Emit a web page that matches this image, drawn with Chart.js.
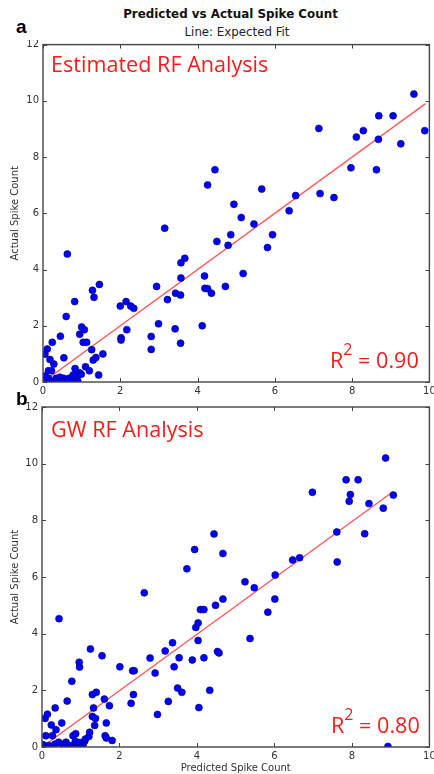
<!DOCTYPE html>
<html><head><meta charset="utf-8">
<script src="https://cdn.jsdelivr.net/npm/chart.js@4.4.1/dist/chart.umd.min.js"></script>
<style>
html,body{margin:0;padding:0;background:#fff;width:434px;height:774px;overflow:hidden;position:relative}
.abs{position:absolute;white-space:nowrap}
.ann{font-family:'Open Sans';font-size:21.6px;line-height:21px;color:#ff1a1a}
.sup{position:relative;top:-13px;font-size:16px}
.lab{font-family:'Liberation Sans';font-weight:bold;font-size:19px;line-height:19px;color:#000}
</style></head><body>
<div class="abs" style="left:0;top:40px;width:434px;height:360px"><canvas id="c1" width="434" height="360"></canvas></div>
<div class="abs" style="left:0;top:400px;width:434px;height:374px"><canvas id="c2" width="434" height="374"></canvas></div>

<div class="abs" style="left:230.5px;top:8.5px;transform:translateX(-50%);font-family:'DejaVu Sans';font-weight:bold;font-size:11.9px;line-height:11.9px;color:#111">Predicted vs Actual Spike Count</div>
<div class="abs" style="left:237px;top:27px;transform:translateX(-50%);font-family:'DejaVu Sans';font-size:11.8px;line-height:11.8px;color:#222">Line: Expected Fit</div>
<div class="abs lab" style="left:16px;top:17px">a</div>
<div class="abs lab" style="left:16px;top:389px">b</div>
<div class="abs ann" style="left:51px;top:53px">Estimated RF Analysis</div>
<div class="abs ann" style="left:330px;top:349px">R<span class="sup">2</span> = 0.90</div>
<div class="abs ann" style="left:51px;top:418px">GW RF Analysis</div>
<div class="abs ann" style="left:331px;top:714px">R<span class="sup">2</span> = 0.80</div>

<script>
const xTicks = [0, 2, 4, 6, 8, 10];
const yTicks = [0, 2, 4, 6, 8, 10, 12];

// Panel a: Estimated RF Analysis
const estX = [0.01,0.05,0.14,0.34,0.54,0.68,0.63,0.44,0.03,0.22,0.48,0.78,0.90,0.82,0.89,0.78,0.94,0.99,1.10,1.20,1.44,0.83,0.14,0.22,0.28,0.18,0.54,1.30,1.37,1.55,1.26,0.05,0.11,0.24,0.45,1.04,1.13,0.95,1.00,1.07,0.60,0.82,1.28,1.32,1.46,0.63,
  2.00,2.15,2.27,2.35,2.02,2.02,2.17,2.80,2.80,2.94,2.99,3.22,3.15,3.42,3.43,3.56,3.57,3.57,3.67,3.56,4.12,4.18,4.19,4.26,4.36,4.50,4.72,5.18,4.79,4.86,4.94,5.13,5.46,5.94,5.81,6.37,4.26,4.45,5.66,6.54,7.14,7.17,7.53,7.97,8.11,8.29,8.63,8.69,8.68,9.06,9.26,9.60,9.88];
const estY = [0.13,0.21,0.13,0.13,0.13,0.13,0.05,0.17,0.00,0.03,0.02,0.02,0.04,0.17,0.22,0.25,0.33,0.28,0.54,0.40,0.25,0.48,0.40,0.40,0.64,0.80,0.86,0.78,0.87,1.00,1.15,0.99,1.17,1.41,1.63,1.41,1.41,1.70,1.96,1.86,2.33,2.86,3.26,3.01,3.47,4.55,
  2.70,2.86,2.70,2.62,1.57,1.49,1.86,1.62,1.16,3.40,2.07,2.93,5.47,1.89,3.16,3.09,3.70,4.24,4.40,1.38,2.00,3.77,3.33,3.32,3.16,5.00,3.40,3.86,4.86,5.24,6.32,5.85,5.62,5.24,4.78,6.09,7.01,7.55,6.86,6.63,9.02,6.70,6.56,7.62,8.71,8.94,7.55,9.47,8.63,9.47,8.47,10.24,8.94];
const estFitX = [0, 9.9];
const estFitY = [0, 9.9];

// Panel b: GW RF Analysis
const gwX = [0.03,0.17,0.33,0.43,0.51,0.62,0.63,0.72,0.89,0.86,0.97,1.06,1.10,1.12,1.21,1.23,1.63,1.66,1.81,0.10,0.27,0.80,0.87,0.24,0.36,0.51,0.08,0.14,0.34,0.65,0.77,0.96,0.97,0.44,1.25,1.55,1.30,1.40,1.33,1.30,1.38,1.36,1.66,1.61,1.74,
  2.01,2.34,2.38,2.36,2.30,2.64,2.79,2.92,2.98,3.18,3.26,3.37,3.41,3.50,3.54,3.61,3.74,3.88,3.94,3.97,4.03,4.03,4.05,4.09,4.18,4.18,4.33,4.44,4.48,4.53,4.57,4.67,4.67,5.24,5.37,5.48,5.83,6.01,6.02,6.47,6.65,6.98,7.61,7.62,7.85,7.93,7.96,8.16,8.33,8.44,8.81,8.87,8.93,9.07];
const gwY = [0.08,0.05,0.10,0.17,0.10,0.17,0.08,0.05,0.05,0.20,0.16,0.08,0.20,0.28,0.37,0.52,0.40,0.32,0.23,0.40,0.40,0.40,0.47,0.78,0.61,0.85,1.01,1.16,1.38,1.62,2.32,2.99,2.82,4.53,3.46,3.22,1.85,1.93,1.38,1.08,1.01,0.76,0.85,1.69,1.46,
  2.83,2.69,2.69,1.85,1.54,5.44,3.14,2.61,1.15,3.39,1.61,3.68,2.83,2.08,3.15,1.93,6.29,3.07,6.97,4.22,4.38,3.76,1.39,4.85,4.85,3.15,2.00,7.52,5.00,3.37,3.32,5.22,6.83,5.83,3.83,5.62,4.76,5.22,6.07,6.60,6.68,8.99,7.59,6.53,9.43,8.67,8.91,9.43,7.53,8.59,8.43,10.20,0.02,8.89];
const gwFitX = [0, 9.05];
const gwFitY = [0, 9.0];

function pts(xs, ys) { return xs.map((x, i) => ({ x: x, y: ys[i] })); }

const frame = {
  id: 'frame',
  afterDatasetsDraw(chart) {
    const { ctx, chartArea: a, scales: { x, y } } = chart;
    ctx.save();
    ctx.strokeStyle = '#444';
    ctx.lineWidth = 1;
    xTicks.forEach(v => {
      const p = Math.round(x.getPixelForValue(v)) + 0.5;
      ctx.beginPath();
      ctx.moveTo(p, a.bottom); ctx.lineTo(p, a.bottom - 4);
      ctx.moveTo(p, a.top); ctx.lineTo(p, a.top + 4);
      ctx.stroke();
    });
    yTicks.forEach(v => {
      const p = Math.round(y.getPixelForValue(v)) + 0.5;
      ctx.beginPath();
      ctx.moveTo(a.left, p); ctx.lineTo(a.left + 4, p);
      ctx.moveTo(a.right, p); ctx.lineTo(a.right - 4, p);
      ctx.stroke();
    });
    ctx.lineWidth = 1.4;
    ctx.strokeRect(a.left, a.top, a.right - a.left, a.bottom - a.top);
    ctx.restore();
  }
};

function make(id, xs, ys, fx, fy, o) {
  return new Chart(document.getElementById(id), {
    type: 'scatter',
    data: {
      datasets: [
        { data: pts(xs, ys), backgroundColor: '#0000ff', borderColor: '#00006e', borderWidth: 0.6, pointRadius: 3.5, order: 0 },
        { data: pts(fx, fy), showLine: true, borderColor: 'rgba(255,70,70,0.9)', borderWidth: 1.4, pointRadius: 0, fill: false, order: 1 }
      ]
    },
    options: {
      responsive: false, animation: false, devicePixelRatio: 1, events: [],
      layout: { padding: o.pad },
      plugins: { legend: { display: false }, tooltip: { enabled: false }, title: { display: false } },
      scales: {
        x: {
          type: 'linear', min: 0, max: 10,
          grid: { display: false, drawTicks: false }, border: { display: false },
          afterBuildTicks: s => { s.ticks = xTicks.map(v => ({ value: v })); },
          ticks: { color: '#333', font: { family: 'DejaVu Sans', size: 10 }, padding: 3, maxRotation: 0, autoSkip: false },
          title: { display: o.xTitle, text: 'Predicted Spike Count', color: '#333', font: { family: 'DejaVu Sans', size: 10 }, padding: 0 },
          afterFit: s => { s.height = o.xh; s.paddingLeft = 0; s.paddingRight = 0; }
        },
        y: {
          type: 'linear', min: 0, max: 12,
          grid: { display: false, drawTicks: false }, border: { display: false },
          afterBuildTicks: s => { s.ticks = yTicks.map(v => ({ value: v })); },
          ticks: { color: '#333', font: { family: 'DejaVu Sans', size: 10 }, padding: 4, autoSkip: false },
          title: { display: true, text: 'Actual Spike Count', color: '#333', font: { family: 'DejaVu Sans', size: 10 }, padding: { top: 9, bottom: 9 } },
          afterFit: s => { s.width = o.yw; s.paddingTop = 0; s.paddingBottom = 0; }
        }
      }
    },
    plugins: [frame]
  });
}

make('c1', estX, estY, estFitX, estFitY, { pad: { top: 3, right: 4, left: 0, bottom: 0 }, xh: 18, yw: 43, xTitle: false });
make('c2', gwX, gwY, gwFitX, gwFitY, { pad: { top: 7, right: 2, left: 0, bottom: 0 }, xh: 27, yw: 42, xTitle: true });
</script>
</body></html>
